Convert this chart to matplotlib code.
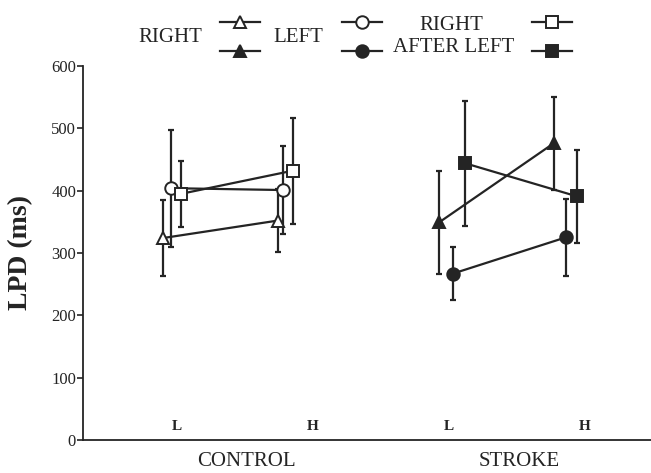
import numpy as np
import matplotlib.pyplot as plt

plt.rcParams['font.family'] = ['Liberation Serif', 'DejaVu Serif']

# group / level labels
groups = ["CONTROL", "STROKE"]
levels = ["L", "H"]
legend_cols = ["RIGHT", "LEFT", "RIGHT", "AFTER LEFT"]

# LPD means (ms) at L and H, and error bar half widths
control_right = [324, 352]
control_right_err = [61, 50]
control_left = [404, 401]
control_left_err = [94, 70]
control_ral = [395, 432]
control_ral_err = [53, 85]

stroke_right = [349, 476]
stroke_right_err = [83, 75]
stroke_left = [267, 325]
stroke_left_err = [43, 62]
stroke_ral = [444, 391]
stroke_ral_err = [100, 75]

ink = "#242424"

fig = plt.figure(figsize=(6.51, 4.73), dpi=100)
ax = fig.add_axes([83 / 651, 33 / 473, 568 / 651, 374 / 473])

# level centres in data units (1 unit = 136 px)
centres = {"CONTROL": [1, 2], "STROKE": [3, 4]}
px = 1 / 136.0
offsets = {
    ("CONTROL", "right"): [-13.7, -35], ("CONTROL", "left"): [-6, -30], ("CONTROL", "ral"): [4.6, -20],
    ("STROKE", "right"): [-9.7, -31], ("STROKE", "left"): [4.3, -19], ("STROKE", "ral"): [16.3, -8],
}

series = [
    ("CONTROL", "right", control_right, control_right_err, "^", "white"),
    ("CONTROL", "left", control_left, control_left_err, "o", "white"),
    ("CONTROL", "ral", control_ral, control_ral_err, "s", "white"),
    ("STROKE", "right", stroke_right, stroke_right_err, "^", ink),
    ("STROKE", "left", stroke_left, stroke_left_err, "o", ink),
    ("STROKE", "ral", stroke_ral, stroke_ral_err, "s", ink),
]

for grp, key, vals, errs, mk, face in series:
    xs = [c + o * px for c, o in zip(centres[grp], offsets[(grp, key)])]
    ax.errorbar(xs, vals, yerr=errs, fmt="none", ecolor=ink, elinewidth=1.6,
                capsize=2.5, capthick=1.6, zorder=2)
    ax.plot(xs, vals, "-", color=ink, lw=1.6, zorder=3)
    ms = 8.5 if mk == "s" else 9
    ax.plot(xs, vals, mk, ms=ms, mfc=face, mec=ink, mew=1.4, ls="none", zorder=4)

# L / H labels inside the plot, group labels below
for grp in groups:
    for x, lev in zip(centres[grp], levels):
        ax.text(x, 22, lev, ha="center", va="center", fontsize=11, fontweight="bold", color=ink)
    ax.text(np.mean(centres[grp]) + 2 * px, -35, grp, ha="center", va="center",
            fontsize=15, color=ink, clip_on=False)

ax.set_xlim(1 - 93.7 * px, 1 + 474.3 * px)
ax.set_ylim(0, 600)
ax.set_yticks(np.arange(0, 601, 100))
ax.set_xticks([])
ax.tick_params(axis="y", direction="out", length=4, width=1.2, labelsize=12, colors=ink, pad=1)
for s in ["top", "right"]:
    ax.spines[s].set_visible(False)
for s in ["left", "bottom"]:
    ax.spines[s].set_linewidth(1.3)
    ax.spines[s].set_color(ink)
ax.set_ylabel("LPD (ms)", fontsize=20, fontweight="bold", color=ink, labelpad=13)

# legend drawn in figure pixel coordinates
lg = fig.add_axes([0, 0, 1, 1])
lg.set_xlim(0, 651)
lg.set_ylim(473, 0)
lg.axis("off")
lg.patch.set_alpha(0)
lg.text(170, 37, legend_cols[0], ha="center", va="center", fontsize=15, color=ink)
lg.text(298, 37, legend_cols[1], ha="center", va="center", fontsize=15, color=ink)
lg.text(451, 25, legend_cols[2], ha="center", va="center", fontsize=15, color=ink)
lg.text(454, 48, legend_cols[3], ha="center", va="center", fontsize=15, color=ink)
for x0, mk in [(220, "^"), (342, "o"), (532, "s")]:
    for y0, face in [(22, "white"), (51, ink)]:
        lg.plot([x0, x0 + 40], [y0, y0], "-", color=ink, lw=1.6)
        lg.plot([x0 + 20], [y0], mk, ms=8.5 if mk == "s" else 9, mfc=face, mec=ink, mew=1.4)

fig.savefig("out.png", dpi=100)
